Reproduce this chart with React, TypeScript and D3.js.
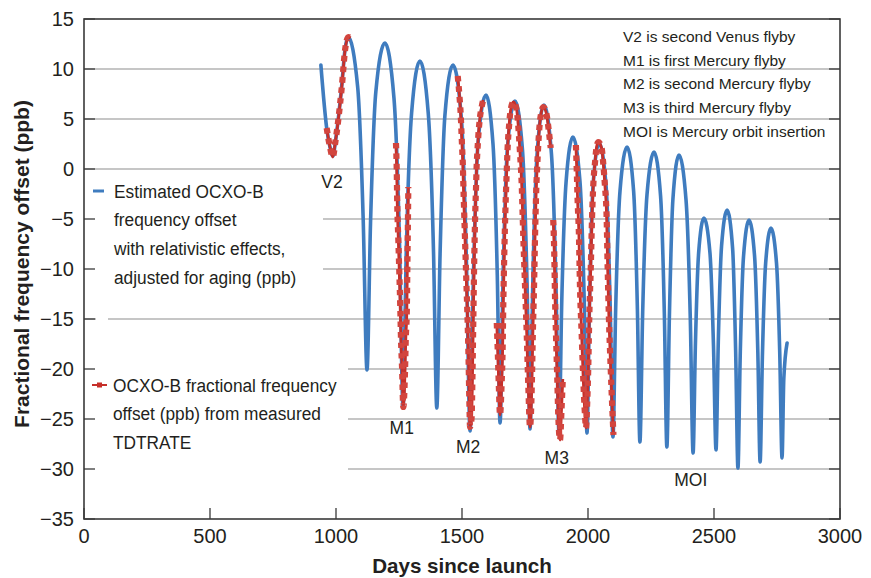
import React from 'react'
import * as d3 from 'd3'

// axis ticks
const yTicks = [15, 10, 5, 0, -5, -10, -15, -20, -25, -30, -35]
const xTicks = [0, 500, 1000, 1500, 2000, 2500, 3000]
const gridValues = [10, 5, 0, -5, -10, -15, -20, -25, -30]

// estimated OCXO-B offset (blue)
const blueDays = [
  940, 963, 976, 988, 998, 1009, 1023, 1036, 1048, 1086, 1108, 1123, 1137, 1158, 1194, 1230, 1252, 1266,
  1279, 1300, 1333, 1366, 1387, 1400, 1413, 1432, 1464, 1498, 1518, 1532, 1545, 1563, 1595, 1623, 1640,
  1651, 1663, 1680, 1710, 1740, 1758, 1770, 1781, 1798, 1825, 1855, 1873, 1885, 1896, 1913, 1940, 1968,
  1985, 1996, 2006, 2020, 2044, 2072, 2088, 2099, 2110, 2127, 2155, 2181, 2196, 2206, 2217, 2234, 2262,
  2288, 2303, 2313, 2323, 2337, 2361, 2389, 2406, 2417, 2426, 2439, 2460, 2484, 2498, 2508, 2517, 2530,
  2552, 2574, 2586, 2595, 2604, 2617, 2639, 2661, 2674, 2683, 2692, 2705, 2726, 2748, 2761, 2770, 2777, 2790,
]
const blueValues = [
  10.4, 4.1, 2.2, 1.3, 2.8, 5.0, 8.4, 12.0, 13.2, 8.2, -5.1, -20.1, -5.4, 7.7, 12.6, 7.1, -7.4, -23.8,
  -8.2, 5.6, 10.8, 5.6, -8.3, -23.9, -8.5, 5.3, 10.4, 4.9, -9.7, -26.2, -11.1, 2.4, 7.4, 2.5, -10.6,
  -25.4, -10.9, 2.0, 6.8, 1.9, -11.2, -26.0, -11.4, 1.5, 6.4, 1.5, -11.7, -26.5, -13.1, -1.3, 3.2, -1.2,
  -13.1, -26.4, -13.4, -1.7, 2.6, -1.8, -13.6, -26.8, -13.8, -2.2, 2.2, -2.2, -14.0, -27.3, -14.3, -2.6, 1.7,
  -2.7, -14.5, -27.8, -14.7, -3.0, 1.4, -3.1, -15.0, -28.4, -17.8, -8.4, -4.9, -8.4, -17.7, -28.1, -17.3, -7.7,
  -4.1, -8.0, -18.3, -29.9, -18.7, -8.8, -5.1, -8.7, -18.4, -29.3, -18.8, -9.4, -5.9, -9.4, -18.5, -28.9, -21.0, -17.4,
]

// measured TDTRATE offset (red), one pair of arrays per tracking pass
const redV2Days = [963, 976, 987, 998, 1009, 1023, 1036, 1049, 1058]
const redV2Values = [4.1, 2.2, 1.2, 2.8, 4.9, 8.2, 11.9, 13.2, 13.1]
const redM1Days = [1238, 1241, 1243, 1247, 1251, 1255, 1258, 1262, 1267, 1274, 1277, 1281, 1283, 1285, 1287]
const redM1Values = [2.6, -0.1, -3.4, -6.8, -10.1, -13.8, -17.1, -19.8, -23.8, -20.1, -16.9, -14.3, -10.1, -6.1, -1.8]
const redM2Days = [1483, 1489, 1495, 1499, 1503, 1507, 1512, 1517, 1522, 1526, 1529, 1532, 1538, 1542, 1545, 1548, 1552, 1556, 1558, 1561, 1565, 1571, 1578, 1584]
const redM2Values = [9.3, 7.6, 5.4, 3.0, 0.6, -3.0, -7.0, -11.0, -15.0, -19.0, -23.0, -25.8, -24.9, -19.9, -14.9, -9.9, -4.9, -1.6, 0.2, 1.7, 3.4, 5.1, 6.2, 6.9]
const redMidDays = [
  1638, 1642, 1646, 1651, 1657, 1661, 1664, 1668, 1672, 1677, 1681, 1687, 1693, 1704, 1717, 1723, 1730, 1737,
  1743, 1750, 1757, 1763, 1770, 1777, 1781, 1786, 1790, 1794, 1800, 1807, 1815, 1823, 1836, 1845, 1852,
]
const redMidValues = [
  -15.4, -18.3, -21.6, -24.6, -21.6, -18.3, -13.3, -8.3, -4.3, -0.6, 2.1, 4.4, 5.9, 6.7, 5.9, 4.4, 1.7, -1.6,
  -6.6, -11.6, -16.6, -21.6, -25.8, -21.6, -16.6, -11.6, -6.6, -2.6, 1.1, 4.1, 5.7, 6.2, 5.4, 3.7, 2.1,
]
const redM3Days = [1862, 1866, 1869, 1873, 1878, 1882, 1889, 1895, 1900]
const redM3Values = [-5.1, -8.3, -12.6, -16.6, -20.9, -24.6, -27.1, -24.0, -21.0]
const redLateDays = [
  1952, 1955, 1959, 1964, 1968, 1975, 1981, 1988, 1992, 1997, 2001, 2005, 2011, 2016, 2021, 2028, 2034, 2041,
  2054, 2061, 2067, 2074, 2078, 2083, 2090, 2097, 2101,
]
const redLateValues = [
  2.4, 0.2, -3.3, -6.6, -11.6, -16.6, -20.9, -24.6, -25.9, -23.3, -19.9, -14.9, -9.9, -4.9, -1.6, 0.7, 2.2, 2.7,
  2.1, 0.4, -1.6, -4.9, -9.9, -14.9, -19.9, -24.3, -26.6,
]

// event labels (day, value at the label baseline)
const eventNames = ['V2', 'M1', 'M2', 'M3', 'MOI']
const eventDays = [984, 1261, 1524, 1876, 2408]
const eventValues = [-1.9, -26.5, -28.4, -29.5, -31.7]

const notes = [
  'V2 is second Venus flyby',
  'M1 is first Mercury flyby',
  'M2 is second Mercury flyby',
  'M3 is third Mercury flyby',
  'MOI is Mercury orbit insertion',
]
const blueLegend = ['Estimated OCXO-B', 'frequency offset', 'with relativistic effects,', 'adjusted for aging (ppb)']
const redLegend = ['OCXO-B fractional frequency', 'offset (ppb) from measured', 'TDTRATE']

const BLUE = '#3f7cbf'
const RED = '#c62f29'
const INK = '#231f20'
const FONT = '"Liberation Sans", Arial, Helvetica, sans-serif'

const zip = (a: number[], b: number[]) => a.map((d, i) => [d, b[i]] as [number, number])

export default function App() {
  const width = 871
  const height = 578
  const plot = { left: 84, right: 840, top: 19, bottom: 519 }

  const x = d3.scaleLinear().domain([0, 3000]).range([plot.left, plot.right])
  const y = d3.scaleLinear().domain([-35, 15]).range([plot.bottom, plot.top])

  const line = d3
    .line<[number, number]>()
    .x(d => x(d[0]))
    .y(d => y(d[1]))
    .curve(d3.curveMonotoneX)

  const bluePath = line(zip(blueDays, blueValues)) ?? ''
  const redPaths = [
    zip(redV2Days, redV2Values),
    zip(redM1Days, redM1Values),
    zip(redM2Days, redM2Values),
    zip(redMidDays, redMidValues),
    zip(redM3Days, redM3Values),
    zip(redLateDays, redLateValues),
  ].map(seg => line(seg) ?? '')

  const minus = (v: number) => (v < 0 ? `\u2212${Math.abs(v)}` : `${v}`)

  return (
    <svg
      width={width}
      height={height}
      style={{ position: 'absolute', left: 0, top: 0, background: '#fff' }}
      fontFamily={FONT}
    >
      {/* grid */}
      {gridValues.map(v => (
        <line key={v} x1={plot.left} x2={plot.right} y1={y(v)} y2={y(v)} stroke="#b3b3b3" strokeWidth={1.3} />
      ))}

      {/* legend backgrounds hide the grid */}
      <rect x={plot.left + 1} y={176} width={238} height={128} fill="#fff" />
      <rect x={96} y={312} width={12} height={14} fill="#fff" />
      <rect x={plot.left + 1} y={330} width={263} height={172} fill="#fff" />

      {/* ticks */}
      {yTicks.map(v => (
        <g key={v}>
          <line x1={plot.left} x2={plot.left + 11} y1={y(v)} y2={y(v)} stroke="#3a3a3a" strokeWidth={1.3} />
          <line x1={plot.right - 11} x2={plot.right} y1={y(v)} y2={y(v)} stroke="#3a3a3a" strokeWidth={1.3} />
          <text x={74} y={y(v)} dy="0.36em" textAnchor="end" fontSize={20} fill={INK}>
            {minus(v)}
          </text>
        </g>
      ))}
      {xTicks.map(v => (
        <g key={v}>
          <line x1={x(v)} x2={x(v)} y1={plot.bottom} y2={plot.bottom - 11} stroke="#3a3a3a" strokeWidth={1.3} />
          <text x={x(v)} y={543} textAnchor="middle" fontSize={20} fill={INK}>
            {v}
          </text>
        </g>
      ))}

      {/* frame */}
      <rect
        x={plot.left}
        y={plot.top}
        width={plot.right - plot.left}
        height={plot.bottom - plot.top}
        fill="none"
        stroke="#3a3a3a"
        strokeWidth={1.6}
      />

      {/* series */}
      <path d={bluePath} fill="none" stroke={BLUE} strokeWidth={3.6} strokeLinejoin="round" strokeLinecap="round" />
      {redPaths.map((d, i) => (
        <g key={i}>
          <path d={d} fill="none" stroke={RED} strokeWidth={2.8} strokeLinejoin="round" />
          <path d={d} fill="none" stroke="#d2453e" strokeWidth={6.2} strokeDasharray="5.5 5" />
        </g>
      ))}

      {/* event labels */}
      {eventNames.map((name, i) => (
        <text key={name} x={x(eventDays[i])} y={y(eventValues[i])} textAnchor="middle" fontSize={17.5} fill={INK}>
          {name}
        </text>
      ))}

      {/* notes */}
      {notes.map((t, i) => (
        <text key={t} x={623} y={42 + i * 23.7} fontSize={15.5} fill={INK}>
          {t}
        </text>
      ))}

      {/* legend */}
      <line x1={93} x2={104} y1={191} y2={191} stroke={BLUE} strokeWidth={3} />
      {blueLegend.map((t, i) => (
        <text key={t} transform={`translate(114,${197.5 + i * 28.8}) scale(0.96,1)`} fontSize={18} fill={INK}>
          {t}
        </text>
      ))}
      <line x1={92} x2={107} y1={385} y2={385} stroke={RED} strokeWidth={2} />
      <rect x={97} y={382.5} width={5} height={5} fill={RED} />
      {redLegend.map((t, i) => (
        <text key={t} transform={`translate(113,${391.5 + i * 28.6}) scale(0.96,1)`} fontSize={18} fill={INK}>
          {t}
        </text>
      ))}

      {/* axis titles */}
      <text x={(plot.left + plot.right) / 2} y={573} textAnchor="middle" fontSize={20.6} fontWeight="bold" fill={INK}>
        Days since launch
      </text>
      <text
        transform={`translate(29,264) rotate(-90)`}
        textAnchor="middle"
        fontSize={21}
        fontWeight="bold"
        fill={INK}
      >
        Fractional frequency offset (ppb)
      </text>
    </svg>
  )
}
